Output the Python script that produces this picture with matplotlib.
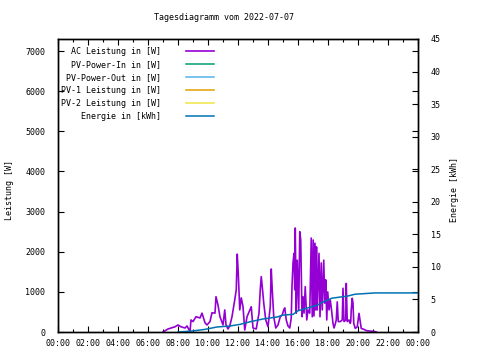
import numpy as np
import matplotlib
matplotlib.use("Agg")
import matplotlib.pyplot as plt
from matplotlib.ticker import MultipleLocator, FuncFormatter

# AC power readings (time, W)
power_time = ["07:00", "07:20", "07:48", "08:00", "08:12", "08:28", "08:36", "08:48", "08:52", "09:00",
              "09:12", "09:28", "09:36", "09:48", "09:56", "10:08", "10:16", "10:28", "10:32", "10:40",
              "10:48", "11:00", "11:07", "11:12", "11:20", "11:27", "11:36", "11:47", "11:53", "11:57",
              "12:01", "12:07", "12:13", "12:20", "12:27", "12:36", "12:44", "12:53", "13:00", "13:13",
              "13:24", "13:29", "13:33", "13:37", "13:43", "13:51", "14:00", "14:09", "14:13", "14:17",
              "14:23", "14:31", "14:40", "14:49", "14:57", "15:03", "15:07", "15:13", "15:20", "15:27",
              "15:33", "15:36", "15:40", "15:44", "15:47", "15:49", "15:53", "15:57", "16:03", "16:07",
              "16:11", "16:16", "16:20", "16:24", "16:29", "16:35", "16:40", "16:47", "16:53", "16:57",
              "17:01", "17:04", "17:08", "17:11", "17:14", "17:17", "17:24", "17:28", "17:33", "17:37",
              "17:43", "17:47", "17:51", "17:55", "17:59", "18:04", "18:09", "18:15", "18:20", "18:24",
              "18:28", "18:33", "18:37", "18:41", "18:49", "18:57", "19:00", "19:04", "19:11", "19:13",
              "19:17", "19:24", "19:29", "19:31", "19:33", "19:37", "19:40", "19:43", "19:49", "19:57",
              "20:04", "20:08", "20:13", "20:24", "20:33", "20:47", "21:07", "21:13"]
power_w = [0, 75, 130, 175, 130, 100, 150, 10, 300, 260,
           380, 350, 470, 230, 175, 260, 480, 470, 880, 670,
           380, 175, 550, 175, 75, 150, 380, 800, 1050, 1940,
           1470, 550, 850, 630, 50, 380, 500, 630, 100, 75,
           470, 1050, 1380, 1130, 720, 300, 130, 630, 1570, 1050,
           380, 100, 175, 380, 425, 550, 600, 300, 150, 100,
           350, 1130, 1720, 1960, 1050, 2590, 470, 1790, 550, 2500,
           2290, 380, 880, 470, 1130, 300, 550, 470, 2340, 380,
           2290, 400, 2210, 550, 2120, 550, 1960, 380, 1720, 550,
           1790, 720, 1300, 300, 1000, 550, 800, 500, 215, 100,
           175, 300, 750, 260, 260, 300, 1090, 260, 300, 1210,
           260, 300, 215, 260, 550, 840, 715, 215, 90, 130,
           465, 300, 90, 65, 35, 25, 10, 0]

# cumulative energy (time, kWh)
energy_time = ["08:00", "08:56", "09:48", "10:36", "11:28", "12:08", "12:48", "13:40", "14:36", "15:00",
               "15:40", "16:00", "16:48", "17:16", "17:40", "18:16", "19:16", "19:48", "21:08", "24:00"]
energy_kwh = [0, 0.15, 0.4, 0.77, 0.92, 1.17, 1.57, 2.0, 2.3, 2.6,
              2.7, 3.26, 3.8, 4.1, 4.6, 5.2, 5.5, 5.8, 6.0, 6.0]


def to_hours(ts):
    return [int(t[:2]) + int(t[3:]) / 60 for t in ts]


plt.rcParams["font.family"] = "DejaVu Sans Mono"
plt.rcParams["font.size"] = 6

fig = plt.figure(figsize=(4.8, 3.6), dpi=100)
ax = fig.add_axes([58 / 480, 28 / 360, 360 / 480, 293 / 360])
ax2 = ax.twinx()

l_ac, = ax.plot(to_hours(power_time), power_w, color="#9400D3", lw=1.2, label="AC Leistung in [W]")
l_in, = ax.plot([], [], color="#009E73", lw=1.1, label="PV-Power-In in [W]")
l_out, = ax.plot([], [], color="#56B4E9", lw=1.1, label="PV-Power-Out in [W]")
l_pv1, = ax.plot([], [], color="#E69F00", lw=1.1, label="PV-1 Leistung in [W]")
l_pv2, = ax.plot([], [], color="#F0E442", lw=1.1, label="PV-2 Leistung in [W]")
l_en, = ax2.plot(to_hours(energy_time), energy_kwh, color="#0072B2", lw=1.1, label="Energie in [kWh]")

ax.set_xlim(0, 24)
ax.set_ylim(0, 7300)
ax2.set_ylim(0, 45)

ax.xaxis.set_major_locator(MultipleLocator(2))
ax.xaxis.set_minor_locator(MultipleLocator(1))
ax.xaxis.set_major_formatter(FuncFormatter(lambda v, p: "%02d:00" % (int(round(v)) % 24)))
ax.yaxis.set_major_locator(MultipleLocator(1000))
ax2.yaxis.set_major_locator(MultipleLocator(5))

ax.tick_params(axis="x", which="both", direction="in", top=True, pad=5)
ax.tick_params(axis="x", which="major", length=4, width=0.8)
ax.tick_params(axis="x", which="minor", length=2.5, width=0.8)
ax.tick_params(axis="y", direction="in", right=True, length=4, width=0.8, pad=9)
ax2.tick_params(axis="y", direction="in", length=4, width=0.8, pad=9)

for a in (ax, ax2):
    for s in a.spines.values():
        s.set_linewidth(1)

ax.set_ylabel("Leistung [W]")
ax.yaxis.set_label_coords(-0.122, 0.485)
ax2.set_ylabel("Energie [kWh]")
ax2.yaxis.set_label_coords(1.088, 0.485)

fig.text(224 / 480, 1 - 18 / 360, "Tagesdiagramm vom 2022-07-07", ha="center", va="center")

handles = [l_ac, l_in, l_out, l_pv1, l_pv2, l_en]
ax.legend(handles, [h.get_label() for h in handles], loc="upper right",
          bbox_to_anchor=(218 / 480, 1 - 43 / 360), bbox_transform=fig.transFigure,
          frameon=False, markerfirst=False, alignment="right", borderpad=0,
          handlelength=3.3, handletextpad=3.0, labelspacing=0.48, fontsize=6)

fig.savefig("out.png", dpi=100)
